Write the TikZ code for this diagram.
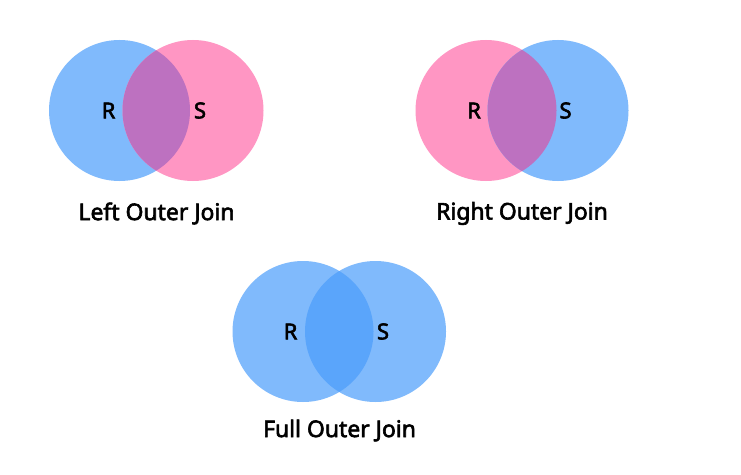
\documentclass[tikz,border=0pt]{standalone}
\usepackage{fontspec}
\setmainfont{Noto Sans}
\newfontfamily\semibf{Noto Sans}[FakeBold=2.6]
\definecolor{cblue}{HTML}{80BAFC}
\definecolor{cpink}{HTML}{FF96C3}
\definecolor{cpurple}{HTML}{BD71C0}
\definecolor{cdeep}{HTML}{5AA5FB}
\tikzset{
  setcirc/.style={circle,minimum size=141*0.75pt,inner sep=0pt,draw=none},
  lbl/.style={font=\semibf\fontsize{16.5pt}{18pt}\selectfont,text=black},
  captext/.style={font=\semibf\fontsize{17.2pt}{18pt}\selectfont,text=black}
}
\begin{document}
\begin{tikzpicture}[x=0.75pt,y=-0.75pt]
\useasboundingbox[fill=white] (0,0) rectangle (741,474);
% Left outer join
\node[setcirc,fill=cblue] (lr) at (119.5,110.5) {};
\node[setcirc,fill=cpink] (ls) at (193,110.5) {};
\begin{scope}
  \clip (119.5,110.5) circle[radius=70.5];
  \fill[cpurple] (193,110.5) circle[radius=70.5];
\end{scope}
\node[lbl] (lrt) at (108.5,110.5) {R};
\node[lbl] (lst) at (200,110.5) {S};
\node[captext] (lcap) at (156.5,213.5) {Left Outer Join};
% Right outer join
\node[setcirc,fill=cpink] (rr) at (486,110.5) {};
\node[setcirc,fill=cblue] (rs) at (558,110.5) {};
\begin{scope}
  \clip (486,110.5) circle[radius=70.5];
  \fill[cpurple] (558,110.5) circle[radius=70.5];
\end{scope}
\node[lbl] (rrt) at (474,110.5) {R};
\node[lbl] (rst) at (565.5,110.5) {S};
\node[captext] (rcap) at (522,213.5) {Right Outer Join};
% Full outer join
\node[setcirc,fill=cblue] (fr) at (303,331.5) {};
\node[setcirc,fill=cblue] (fs) at (375.5,331.5) {};
\begin{scope}
  \clip (303,331.5) circle[radius=70.5];
  \fill[cdeep] (375.5,331.5) circle[radius=70.5];
\end{scope}
\node[lbl] (frt) at (290.5,331.5) {R};
\node[lbl] (fst) at (383,331.5) {S};
\node[captext] (fcap) at (339.5,430.5) {Full Outer Join};
\end{tikzpicture}
\end{document}
